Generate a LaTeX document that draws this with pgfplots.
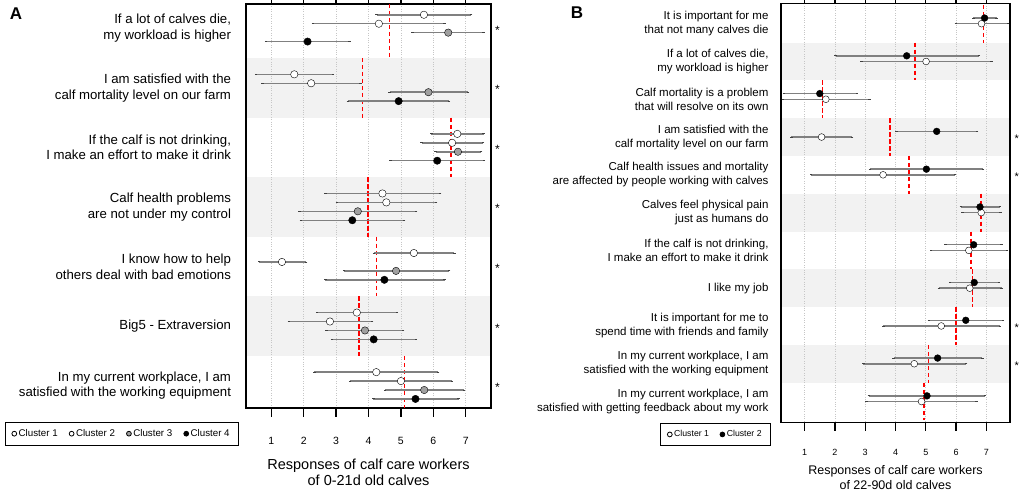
\documentclass[border=0pt]{standalone}
\usepackage{fontspec}
\setmainfont{Liberation Sans}
\usepackage{pgfplots}
\pgfplotsset{compat=1.18}
\usepackage{pgfplotstable}

% panel A (0-21 d calves): g = item, m = mean, lo/hi = whisker ends
\pgfplotstableread{
g m lo hi
1 5.71 4.25 7.17
2 1.71 0.53 2.90
3 6.74 5.94 7.55
4 4.43 2.67 6.21
5 5.40 4.17 6.65
6 3.64 2.41 4.88
7 4.24 2.33 6.15
}\aone
\pgfplotstableread{
g m lo hi
1 4.32 2.28 6.34
2 2.23 0.73 3.75
3 6.58 5.64 7.53
4 4.55 3.02 6.09
5 1.33 0.63 2.08
6 2.81 1.54 4.11
7 5.00 3.43 6.57
}\atwo
\pgfplotstableread{
g m lo hi
1 6.46 5.36 7.55
2 5.85 4.65 7.07
3 6.76 6.07 7.48
4 3.67 1.87 5.47
5 4.85 3.25 6.49
6 3.89 2.71 5.07
7 5.72 4.51 6.94
}\athree
\pgfplotstableread{
g m lo hi
1 2.12 0.84 3.41
2 4.93 3.36 6.48
3 6.12 4.68 7.56
4 3.50 1.91 5.10
5 4.49 2.67 6.35
6 4.16 2.87 5.46
7 5.45 4.15 6.78
}\afour
% overall means, one dashed segment per item
\pgfplotstableread{
v y
4.65 0.594
4.65 1.5
nan nan
3.82 1.5
3.82 2.5
nan nan
6.55 2.5
6.55 3.5
nan nan
3.98 3.5
3.98 4.5
nan nan
4.25 4.5
4.25 5.5
nan nan
3.71 5.5
3.71 6.5
nan nan
5.11 6.5
5.11 7.377
}\ared

% panel B (22-90 d calves)
\pgfplotstableread{
g m lo hi
1 6.84 5.99 7.72
2 5.01 2.88 7.17
3 1.70 0.28 3.14
4 1.56 0.56 2.57
5 3.59 1.22 5.96
6 6.83 6.21 7.47
7 6.42 5.18 7.69
8 6.45 5.43 7.50
9 5.51 3.60 7.44
10 4.62 2.94 6.33
11 4.86 3.04 6.68
}\bone
\pgfplotstableread{
g m lo hi
1 6.94 6.57 7.34
2 4.37 2.02 6.75
3 1.50 0.31 2.72
4 5.36 4.03 6.70
5 5.02 3.15 6.89
6 6.79 6.16 7.44
7 6.58 5.65 7.50
8 6.60 5.80 7.41
9 6.32 5.10 7.55
10 5.39 3.94 6.87
11 5.04 3.12 6.96
}\btwo
\pgfplotstableread{
v y
6.91 0.5
6.91 1.5
nan nan
4.64 1.5
4.64 2.5
nan nan
1.59 2.5
1.59 3.5
nan nan
3.82 3.5
3.82 4.5
nan nan
4.44 4.5
4.44 5.5
nan nan
6.82 5.5
6.82 6.5
nan nan
6.50 6.5
6.50 7.5
nan nan
6.54 7.5
6.54 8.5
nan nan
5.99 8.5
5.99 9.5
nan nan
5.09 9.5
5.09 10.5
nan nan
4.95 10.5
4.95 11.5
}\bred

\pgfplotsset{
  panel/.style={
    scale only axis, anchor=south west, set layers, clip=false,
    xmin=0.22, xmax=7.78, y dir=reverse,
    xtick={1,...,7},
    xmajorgrids, grid style={dotted, gray!45, line width=0.8pt},
    tick align=outside,
    axis line style={line width=1.2pt},
    ytick style={draw=none},
    xtick style={line width=1.2pt, black},
    /pgf/number format/assume math mode=true,
    yticklabel style={align=right},
    xlabel style={align=center},
    legend style={draw=black, line width=0.8pt, inner xsep=7pt, inner ysep=5.5pt},
    legend image code/.code={\draw[##1, mark size=2.4pt, line width=0.8pt] plot coordinates {(0pt,0pt)};},
  },
  cl/.style={only marks, mark=*, mark size=#1,
    mark options={draw=black, line width=1pt}},
  whisk/.style={error bars/.cd, x dir=both, x explicit,
    error bar style={line width=1.5pt, color=black!50},
    error mark options={line width=0.9pt, mark size=1.2pt, color=black!75}},
  meanline/.style={forget plot, mark=none, red, line width=1.6pt,
    dash pattern=on 4.5pt off 2.5pt, unbounded coords=jump},
}

\begin{document}
\begin{tikzpicture}

\node[font=\fontsize{17}{17}\selectfont\bfseries] at (16pt,478pt) {A};
\node[font=\fontsize{17}{17}\selectfont\bfseries] at (577pt,479pt) {B};

\begin{axis}[panel,
  at={(246pt,84pt)}, width=245pt, height=404pt,
  ymin=0.594, ymax=7.377, ytick={1,...,7},
  yticklabels={{If a lot of calves die,\\my workload is higher},
    {I am satisfied with the\\calf mortality level on our farm},
    {If the calf is not drinking,\\I make an effort to make it drink},
    {Calf health problems\\are not under my control},
    {I know how to help\\others deal with bad emotions},
    {Big5 - Extraversion},
    {In my current workplace, I am\\satisfied with the working equipment}},
  yticklabel style={font=\fontsize{13.2}{15.8}\selectfont, xshift=-2.5pt},
  xticklabel style={font=\fontsize{10.5}{12}\selectfont, yshift=-17pt},
  major tick length=9pt,
  xlabel={Responses of calf care workers\\of 0-21d old calves},
  xlabel style={font=\fontsize{14.5}{16}\selectfont, at={(axis description cs:0.5,-0.158)}, anchor=center},
  legend style={at={(axis description cs:-0.507,-0.0636)}, anchor=center,
    font=\fontsize{9.75}{11}\selectfont, legend columns=4,
    /tikz/every even column/.append style={column sep=9.5pt}},
]
\begin{pgfonlayer}{axis background}
  \fill[gray!10] (axis cs:0.22,1.5) rectangle (axis cs:7.78,2.5);
  \fill[gray!10] (axis cs:0.22,3.5) rectangle (axis cs:7.78,4.5);
  \fill[gray!10] (axis cs:0.22,5.5) rectangle (axis cs:7.78,6.5);
\end{pgfonlayer}
\addplot[meanline] table[x=v, y=y] {\ared};
\addplot[cl=3.7pt, mark options={fill=white}, whisk] table[x=m, y expr=\thisrow{g}-0.225,
  x error plus expr=\thisrow{hi}-\thisrow{m}, x error minus expr=\thisrow{m}-\thisrow{lo}] {\aone};
\addlegendentry{Cluster 1}
\addplot[cl=3.7pt, mark options={fill=white}, whisk] table[x=m, y expr=\thisrow{g}-0.075,
  x error plus expr=\thisrow{hi}-\thisrow{m}, x error minus expr=\thisrow{m}-\thisrow{lo}] {\atwo};
\addlegendentry{Cluster 2}
\addplot[cl=3.7pt, mark options={fill=gray!75}, whisk] table[x=m, y expr=\thisrow{g}+0.075,
  x error plus expr=\thisrow{hi}-\thisrow{m}, x error minus expr=\thisrow{m}-\thisrow{lo}] {\athree};
\addlegendentry{Cluster 3}
\addplot[cl=3.7pt, mark options={fill=black}, whisk] table[x=m, y expr=\thisrow{g}+0.225,
  x error plus expr=\thisrow{hi}-\thisrow{m}, x error minus expr=\thisrow{m}-\thisrow{lo}] {\afour};
\addlegendentry{Cluster 4}
\pgfplotsinvokeforeach{1,...,7}{
  \node[font=\fontsize{12}{12}\selectfont, yshift=-2pt] at (axis cs:7.98,#1) {*};
}
\end{axis}

\begin{axis}[panel,
  at={(781pt,69.3pt)}, width=229pt, height=419.4pt,
  ymin=0.46, ymax=11.56, ytick={1,...,11},
  yticklabels={{It is important for me\\that not many calves die},
    {If a lot of calves die,\\my workload is higher},
    {Calf mortality is a problem\\that will resolve on its own},
    {I am satisfied with the\\calf mortality level on our farm},
    {Calf health issues and mortality\\are affected by people working with calves},
    {Calves feel physical pain\\just as humans do},
    {If the calf is not drinking,\\I make an effort to make it drink},
    {I like my job},
    {It is important for me to\\spend time with friends and family},
    {In my current workplace, I am\\satisfied with the working equipment},
    {In my current workplace, I am\\satisfied with getting feedback about my work}},
  yticklabel style={font=\fontsize{11.5}{14}\selectfont, xshift=-1pt},
  xticklabel style={font=\fontsize{9}{10}\selectfont, yshift=-15pt},
  major tick length=8pt,
  xlabel={Responses of calf care workers\\of 22-90d old calves},
  xlabel style={font=\fontsize{12.5}{14.5}\selectfont, at={(axis description cs:0.5,-0.1307)}, anchor=center},
  legend style={at={(axis description cs:-0.286,-0.028)}, anchor=center,
    font=\fontsize{8.7}{10}\selectfont, legend columns=2, inner ysep=5pt,
    /tikz/every even column/.append style={column sep=9pt}},
]
\begin{pgfonlayer}{axis background}
  \fill[gray!10] (axis cs:0.22,1.5) rectangle (axis cs:7.78,2.5);
  \fill[gray!10] (axis cs:0.22,3.5) rectangle (axis cs:7.78,4.5);
  \fill[gray!10] (axis cs:0.22,5.5) rectangle (axis cs:7.78,6.5);
  \fill[gray!10] (axis cs:0.22,7.5) rectangle (axis cs:7.78,8.5);
  \fill[gray!10] (axis cs:0.22,9.5) rectangle (axis cs:7.78,10.5);
\end{pgfonlayer}
\addplot[meanline] table[x=v, y=y] {\bred};
\addplot[cl=3.4pt, mark options={fill=white}, whisk] table[x=m, y=g,
  x error plus expr=\thisrow{hi}-\thisrow{m}, x error minus expr=\thisrow{m}-\thisrow{lo}] {\bone};
\addlegendentry{Cluster 1}
\addplot[cl=3.4pt, mark options={fill=black}, whisk] table[x=m, y expr=\thisrow{g}-0.15,
  x error plus expr=\thisrow{hi}-\thisrow{m}, x error minus expr=\thisrow{m}-\thisrow{lo}] {\btwo};
\addlegendentry{Cluster 2}
\pgfplotsinvokeforeach{4,5,9,10}{
  \node[font=\fontsize{11}{11}\selectfont, yshift=-2pt] at (axis cs:8.0,#1) {*};
}
\end{axis}

\pgfresetboundingbox
\path[use as bounding box] (0,0) rectangle (1021pt,492pt);
\end{tikzpicture}
\end{document}
